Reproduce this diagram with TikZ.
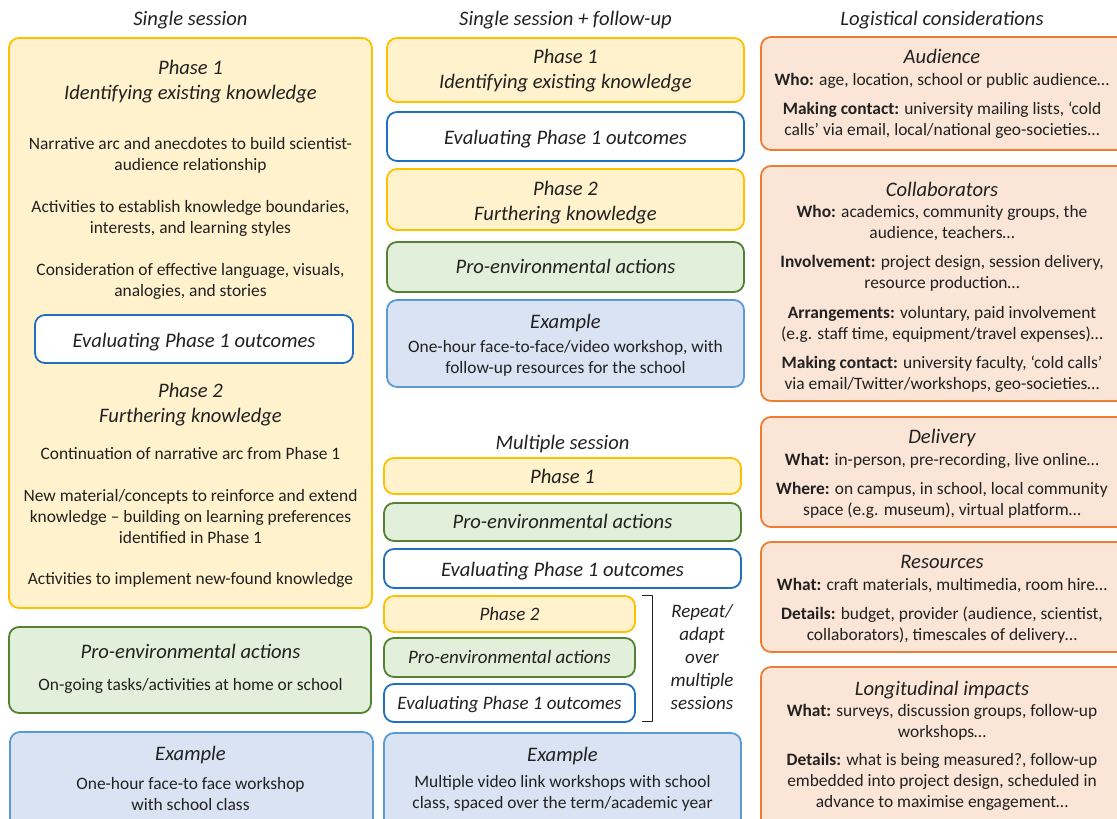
\documentclass[tikz,border=0pt]{standalone}
\usepackage{fontspec}
\setmainfont{Carlito}
\definecolor{txt}{RGB}{33,33,33}
\definecolor{phasefill}{RGB}{255,242,204}
\definecolor{phaseline}{RGB}{255,192,0}
\definecolor{greenfill}{RGB}{226,239,218}
\definecolor{greenline}{RGB}{84,130,53}
\definecolor{exfill}{RGB}{218,227,243}
\definecolor{exline}{RGB}{91,155,213}
\definecolor{evalline}{RGB}{32,112,190}
\definecolor{logfill}{RGB}{251,229,214}
\definecolor{logline}{RGB}{237,125,49}
\newcommand{\headfont}{\fontsize{20.6}{25}\selectfont\itshape}
\newcommand{\smallhead}{\fontsize{19}{23}\selectfont\itshape}
\newcommand{\bodyfont}{\fontsize{17.4}{21}\selectfont}
\tikzset{
  box/.style={rounded corners=10pt, line width=1.8pt},
  phasebox/.style={box, draw=phaseline, fill=phasefill},
  greenbox/.style={box, draw=greenline, fill=greenfill},
  evalbox/.style={box, draw=evalline, fill=white},
  exbox/.style={box, draw=exline, fill=exfill},
  logbox/.style={box, draw=logline, fill=logfill},
  head/.style={font=\headfont, text=txt, align=center, anchor=base, inner sep=0pt},
  subhead/.style={font=\smallhead, text=txt, align=center, anchor=base, inner sep=0pt},
  body/.style={font=\bodyfont, text=txt, align=center, anchor=base, inner sep=0pt},
  coltitle/.style={font=\fontsize{20.6}{25}\selectfont\itshape, text=txt, anchor=base, inner sep=0pt}
}
\begin{document}
\begin{tikzpicture}[x=1pt, y=-1pt, line join=round]
\useasboundingbox (0,0) rectangle (1117,819);
\clip (0,0) rectangle (1117,819);
% column centres; multi-line texts sit on the baseline of their last line
\def\colA{190.5} \def\colB{565.5} \def\colM{562.5} \def\colS{509.5} \def\colC{942}

%Single session
\node[coltitle] (t1) at (\colA,25) {Single session};
\draw[phasebox] (9,38) rectangle (372,608);
\node[head] (a1) at (\colA,99) {Phase 1\\Identifying existing knowledge};
\node[body] (a2) at (\colA,170) {Narrative arc and anecdotes to build scientist-\\audience relationship};
\node[body] (a3) at (\colA,233) {Activities to establish knowledge boundaries,\\interests, and learning styles};
\node[body] (a4) at (\colA,296) {Consideration of effective language, visuals,\\analogies, and stories};
\draw[evalbox] (35,315) rectangle (353,363);
\node[head] (a5) at (194,347) {Evaluating Phase 1 outcomes};
\node[head] (a6) at (\colA,422) {Phase 2\\Furthering knowledge};
\node[body] (a7) at (\colA,459) {Continuation of narrative arc from Phase 1};
\node[body] (a8) at (\colA,543) {New material/concepts to reinforce and extend\\knowledge -- building on learning preferences\\identified in Phase 1};
\node[body] (a9) at (\colA,584) {Activities to implement new-found knowledge};
\draw[greenbox] (9,627) rectangle (371,713);
\node[head] (a10) at (\colA,658) {Pro-environmental actions};
\node[body] (a11) at (\colA,690) {On-going tasks/activities at home or school};
\draw[exbox] (10,732) rectangle (373,830);
\node[head] (a12) at (\colA,760) {Example};
\node[body] (a13) at (\colA,810) {One-hour face-to face workshop\\with school class};

%Single session + follow-up
\node[coltitle] (t2) at (\colB,25) {Single session + follow-up};
\draw[phasebox] (387,38) rectangle (744,102);
\node[head] (b1) at (\colB,88) {Phase 1\\Identifying existing knowledge};
\draw[evalbox] (387,112) rectangle (744,161);
\node[head] (b2) at (\colB,144) {Evaluating Phase 1 outcomes};
\draw[phasebox] (387,169) rectangle (744,230);
\node[head] (b3) at (\colB,220) {Phase 2\\Furthering knowledge};
\draw[greenbox] (387,242) rectangle (744,292);
\node[head] (b4) at (\colB,273) {Pro-environmental actions};
\draw[exbox] (387,300) rectangle (744,387);
\node[head] (b5) at (\colB,328) {Example};
\node[body] (b6) at (\colB,373) {One-hour face-to-face/video workshop, with\\follow-up resources for the school};

%Multiple session
\node[coltitle] (t3) at (\colM,449) {Multiple session};
\draw[phasebox] (384,458) rectangle (741,494);
\node[head] (c1) at (\colM,483) {Phase 1};
\draw[greenbox] (384,503) rectangle (741,541);
\node[head] (c2) at (\colM,528) {Pro-environmental actions};
\draw[evalbox] (384,549) rectangle (741,588);
\node[head] (c3) at (\colM,576) {Evaluating Phase 1 outcomes};
\draw[phasebox] (384,596) rectangle (635,632);
\node[subhead] (c4) at (\colS,620) {Phase 2};
\draw[greenbox] (384,638) rectangle (635,677);
\node[subhead] (c5) at (\colS,663) {Pro-environmental actions};
\draw[evalbox] (384,684) rectangle (635,722);
\node[subhead] (c6) at (\colS,709) {Evaluating Phase 1 outcomes};
\coordinate (brt) at (642,595);
\coordinate (brb) at (642,721);
\draw[txt, line width=0.9pt] (brt) -- ++(10,0) |- (brb);
\node[subhead] (c7) at (702,709) {Repeat/\\adapt\\over\\multiple\\sessions};
\draw[exbox] (384,733) rectangle (741,830);
\node[head] (c8) at (\colM,761) {Example};
\node[body] (c9) at (\colM,808) {Multiple video link workshops with school\\class, spaced over the term/academic year};

%Logistical considerations
\node[coltitle] (t4) at (\colC,25) {Logistical considerations};
\draw[logbox] (761,37) rectangle (1130,150);
\node[head] (d1) at (\colC,63) {Audience};
\node[body] (d2) at (\colC,85) {\textbf{Who:} age, location, school or public audience\dots};
\node[body] (d3) at (\colC,135) {\textbf{Making contact:} university mailing lists, `cold\\calls' via email, local/national geo-societies\dots};
\draw[logbox] (761,166) rectangle (1130,401);
\node[head] (e1) at (\colC,196) {Collaborators};
\node[body] (e2) at (\colC,238) {\textbf{Who:} academics, community groups, the\\audience, teachers\dots};
\node[body] (e3) at (\colC,288) {\textbf{Involvement:} project design, session delivery,\\resource production\dots};
\node[body] (e4) at (\colC,339) {\textbf{Arrangements:} voluntary, paid involvement\\(e.g. staff time, equipment/travel expenses)\dots};
\node[body] (e5) at (\colC,389) {\textbf{Making contact:} university faculty, `cold calls'\\via email/Twitter/workshops, geo-societies\dots};
\draw[logbox] (761,417) rectangle (1130,527);
\node[head] (f1) at (\colC,443) {Delivery};
\node[body] (f2) at (\colC,465) {\textbf{What:} in-person, pre-recording, live online\dots};
\node[body] (f3) at (\colC,515) {\textbf{Where:} on campus, in school, local community\\space (e.g. museum), virtual platform\dots};
\draw[logbox] (761,542) rectangle (1130,652);
\node[head] (g1) at (\colC,568) {Resources};
\node[body] (g2) at (\colC,590) {\textbf{What:} craft materials, multimedia, room hire\dots};
\node[body] (g3) at (\colC,640) {\textbf{Details:} budget, provider (audience, scientist,\\collaborators), timescales of delivery\dots};
\draw[logbox] (761,667) rectangle (1130,830);
\node[head] (h1) at (\colC,695) {Longitudinal impacts};
\node[body] (h2) at (\colC,737) {\textbf{What:} surveys, discussion groups, follow-up\\workshops\dots};
\node[body] (h3) at (\colC,807) {\textbf{Details:} what is being measured?, follow-up\\embedded into project design, scheduled in\\advance to maximise engagement\dots};
\end{tikzpicture}
\end{document}
